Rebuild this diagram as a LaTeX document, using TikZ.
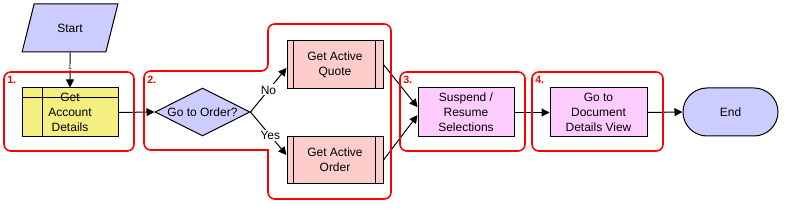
\documentclass[tikz,border=0pt]{standalone}
\usepackage{fontspec}
\setmainfont{Liberation Sans}
\usetikzlibrary{shapes.geometric,arrows.meta}
\definecolor{lav}{RGB}{204,204,255}
\definecolor{acctyel}{RGB}{245,238,128}
\definecolor{subpink}{RGB}{255,204,204}
\definecolor{procpink}{RGB}{255,204,255}
\definecolor{frred}{RGB}{255,0,0}
\begin{document}
\begin{tikzpicture}[x=0.75pt,y=-0.75pt,font=\fontsize{9}{11.25}\selectfont,
    base/.style={draw,line width=0.75pt,align=center,inner sep=0pt},
    proc/.style={base,fill=procpink,minimum width=72pt,minimum height=36.75pt},
    subproc/.style={base,fill=subpink,minimum width=72pt,minimum height=35.5pt,
        path picture={\draw ([xshift=4.5pt]path picture bounding box.north west) -- ([xshift=4.5pt]path picture bounding box.south west);
                      \draw ([xshift=-6pt]path picture bounding box.north east) -- ([xshift=-6pt]path picture bounding box.south east);}},
    store/.style={base,fill=acctyel,minimum width=72pt,minimum height=36.75pt,
        path picture={\draw ([xshift=15pt]path picture bounding box.north west) -- ([xshift=15pt]path picture bounding box.south west);
                      \draw ([yshift=-7.5pt]path picture bounding box.north west) -- ([yshift=-7.5pt]path picture bounding box.north east);}},
    decision/.style={base,diamond,aspect=2,fill=lav,minimum width=71.25pt,minimum height=36pt},
    term/.style={base,fill=lav,rounded corners=18pt,minimum width=71.25pt,minimum height=36pt},
    flow/.style={line width=0.75pt,-{Triangle[length=6pt,width=6pt]}},
    frame/.style={draw=frred,line width=1.2pt,rounded corners=5pt},
    stepno/.style={text=frred,font=\fontsize{8}{9}\selectfont\bfseries,anchor=north west,inner sep=0pt}]
\useasboundingbox (0,0) rectangle (789,209);

% shapes
\node[base,trapezium,trapezium left angle=63.4,trapezium right angle=116.6,trapezium stretches=true,
      fill=lav,minimum width=72pt,minimum height=36pt] (start) at (70,28) {Start};
\node[store] (acct) at (70,112.5) {Get\\Account\\Details};
\node[decision] (decide) at (202.5,112) {Go to Order?};
\node[subproc] (quote) at (335,64.5) {Get Active\\Quote};
\node[subproc] (actorder) at (335,160) {Get Active\\Order};
\node[proc] (susp) at (466,112.5) {Suspend /\\Resume\\Selections};
\node[proc,minimum width=72.75pt] (docview) at (598.5,112.5) {Go to\\Document\\Details View};
\node[term] (end) at (730.5,112) {End};

% connectors
\draw[flow] (start.south) -- node[pos=0.42,fill=white,inner sep=0.5pt,font=\fontsize{5}{5}\selectfont] {1} (acct.north);
\draw[flow] (acct.east) -- (decide.west);
\draw[flow] (decide.east) -- node[fill=white,inner sep=1pt] {No} ([yshift=-2.6pt]quote.west);
\draw[flow] (decide.east) -- node[pos=0.55,fill=white,inner sep=1pt] {Yes} ([yshift=3.75pt]actorder.west);
\draw[flow] (quote.east) -- ([yshift=4pt]susp.west);
\draw[flow] (actorder.east) -- ([yshift=-2pt]susp.west);
\draw[flow] (susp.east) -- (docview.west);
\draw[flow] (docview.east) -- (end.west);

% red step frames
\draw[frame] (4,72) rectangle (134,151);
\draw[frame] (206,71) -- (268,71) -- (268,50)
    [rounded corners=5pt] -- (268,24) -- (391,24) -- (391,199) -- (268,199) -- (268,180)
    [sharp corners] -- (268,150) -- (206,150)
    [rounded corners=5pt] -- (144,150) -- (144,71) -- (206,71);
\draw[frame] (400,72) rectangle (525,151);
\draw[frame] (532,72) rectangle (663,151);
\node[stepno] (n1) at (7,76) {1.};
\node[stepno] (n2) at (147,76) {2.};
\node[stepno] (n3) at (403,76) {3.};
\node[stepno] (n4) at (535,76) {4.};
\end{tikzpicture}
\end{document}
